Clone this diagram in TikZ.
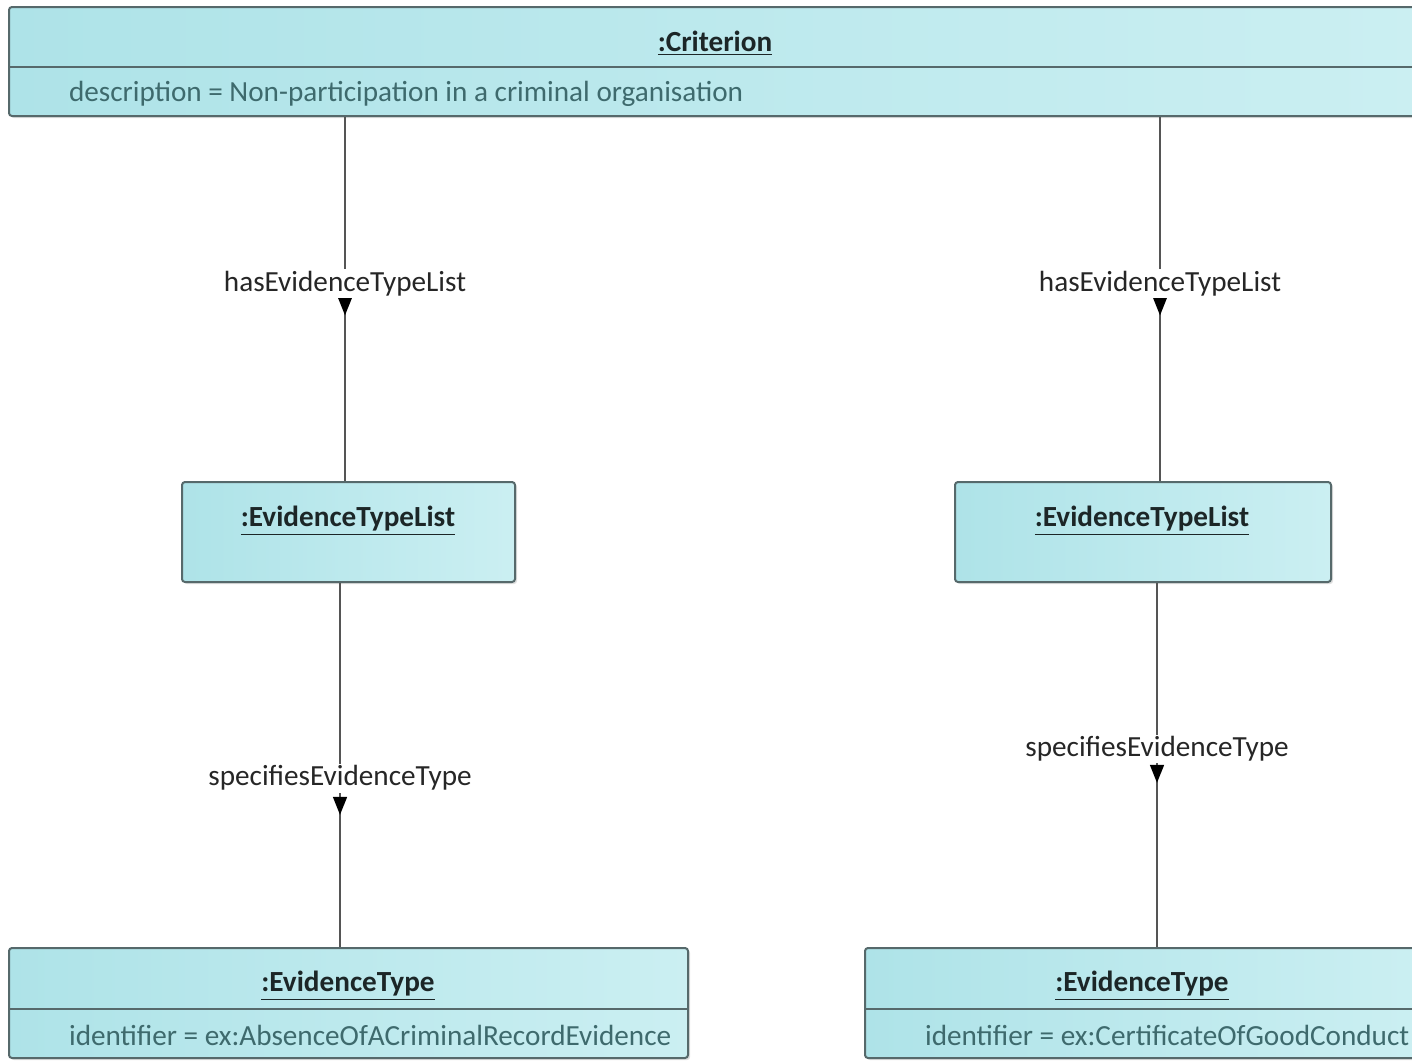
\documentclass[tikz,border=0pt]{standalone}
\usepackage{fontspec}
\setmainfont{Carlito}
\usepackage{tikz}
\usetikzlibrary{positioning,arrows.meta,decorations.markings,shadows}

\definecolor{boxleft}{HTML}{AEE3E8}
\definecolor{boxright}{HTML}{CBEFF2}
\definecolor{boxline}{HTML}{56696B}
\definecolor{attrtext}{HTML}{3E6A6D}
\definecolor{titletext}{HTML}{1C2627}
\definecolor{linkline}{HTML}{555555}

\tikzset{
  objbox/.style={draw=boxline, line width=1pt, left color=boxleft, right color=boxright,
    rounded corners=1.5pt, inner sep=0pt,
    drop shadow={shadow xshift=1pt, shadow yshift=-1pt, opacity=0.25, fill=gray}},
  objtitle/.style={font=\fontsize{14.6}{17}\selectfont\bfseries, text=titletext},
  objattr/.style={font=\fontsize{14.6}{17}\selectfont, text=attrtext, anchor=west},
  rolelabel/.style={font=\fontsize{14.6}{17}\selectfont, text=black!85, fill=white, inner sep=1pt},
  assoc/.style={draw=linkline, line width=0.75pt},
  arrowat/.style={decoration={markings, mark=at position #1 with {\arrow[black]{Triangle[width=7pt,length=9pt]}}}, postaction=decorate}
}

\begin{document}
\begin{tikzpicture}[x=0.5pt, y=-0.5pt]
    \useasboundingbox (0,0) rectangle (1412,1060);
    \clip (0,0) rectangle (1412,1060);

    % object boxes
    \node[objbox, minimum width=706pt,   minimum height=54.5pt] (crit) at (715,61.5) {};
    \node[objbox, minimum width=166.5pt, minimum height=50pt]   (etlA) at (348.5,532) {};
    \node[objbox, minimum width=188pt,   minimum height=50pt]   (etlB) at (1143,532) {};
    \node[objbox, minimum width=339.5pt, minimum height=55pt]   (etA)  at (348.5,1003) {};
    \node[objbox, minimum width=277pt,   minimum height=55pt]   (etB)  at (1142,1003) {};

    % compartment lines
    \draw[boxline, line width=1pt] (crit.west |- 0,67) -- (crit.east |- 0,67);
    \draw[boxline, line width=1pt] (etA.west |- 0,1009) -- (etA.east |- 0,1009);
    \draw[boxline, line width=1pt] (etB.west |- 0,1009) -- (etB.east |- 0,1009);

    % titles and attributes
    \node[objtitle] (critT) at (715,43)   {\underline{:Criterion}};
    \node[objattr]  (critD) at (62,94)    {description = Non-participation in a criminal organisation};
    \node[objtitle] (etlAT) at (348,521)  {\underline{:EvidenceTypeList}};
    \node[objtitle] (etlBT) at (1142,521) {\underline{:EvidenceTypeList}};
    \node[objtitle] (etAT)  at (348,986)  {\underline{:EvidenceType}};
    \node[objattr]  (etAD)  at (62,1035)  {identifier = ex:AbsenceOfACriminalRecordEvidence};
    \node[objtitle] (etBT)  at (1142,986) {\underline{:EvidenceType}};
    \node[objattr]  (etBD)  at (918,1035) {identifier = ex:CertificateOfGoodConduct};

    % links
    \draw[assoc, arrowat=0.545] ([xshift=-1.75pt]etlA.north |- crit.south) -- node[rolelabel, pos=0.458] {hasEvidenceTypeList} ([xshift=-1.75pt]etlA.north);
    \draw[assoc, arrowat=0.545] ([xshift=8.5pt]etlB.north |- crit.south) -- node[rolelabel, pos=0.458] {hasEvidenceTypeList} ([xshift=8.5pt]etlB.north);
    \draw[assoc, arrowat=0.637] ([xshift=-4.25pt]etlA.south) -- node[rolelabel, pos=0.536] {specifiesEvidenceType} ([xshift=-4.25pt]etlA.south |- etA.north);
    \draw[assoc, arrowat=0.549] ([xshift=7pt]etlB.south) -- node[rolelabel, pos=0.456] {specifiesEvidenceType} ([xshift=7pt]etlB.south |- etB.north);
\end{tikzpicture}
\end{document}
